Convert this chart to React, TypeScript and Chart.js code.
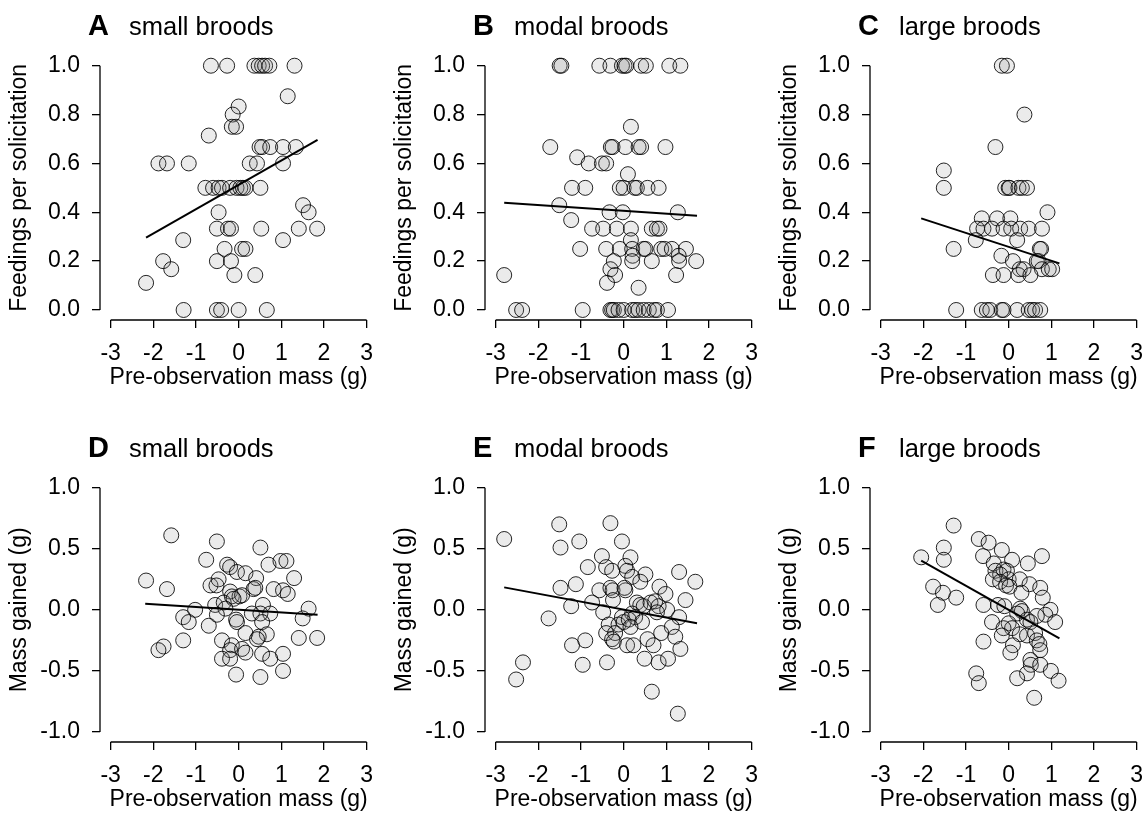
import React, { useEffect, useRef } from "react";
import { Chart, registerables } from "chart.js";
Chart.register(...registerables);

const FONT = '"Liberation Sans", Arial, Helvetica, sans-serif';

// ---------- tick labels ----------
const massTicks = [-3, -2, -1, 0, 1, 2, 3];
const feedTicks = [0, 0.2, 0.4, 0.6, 0.8, 1.0];
const gainTicks = [-1, -0.5, 0, 0.5, 1];

const massTitle = "Pre-observation mass (g)";
const feedTitle = "Feedings per solicitation";
const gainTitle = "Mass gained (g)";

// ---------- A: small broods, feedings ----------
const smallFeedMass = [-0.65, -0.27, 0.37, 0.47, 0.55, 0.62, 0.72, 1.31, 1.15, 0.0, -0.14, -0.16, -0.06, -0.7, 0.49, 0.55, 0.74, 1.04, 1.34, -1.88, -1.68, -1.17, 0.26, 0.43, 1.04, -0.78, -0.6, -0.47, -0.39, -0.2, -0.05, 0.04, 0.1, 0.16, 0.51, 1.51, -0.47, 1.64, -0.51, -0.25, -0.18, 0.53, 1.41, 1.84, -1.3, 1.04, -0.33, 0.08, 0.16, -1.77, -0.51, -0.18, -1.58, -0.1, 0.39, -2.17, -1.29, -0.51, -0.41, 0.0, 0.66];
const smallFeedRate = [1, 1, 1, 1, 1, 1, 1, 1, 0.875, 0.833, 0.8, 0.75, 0.75, 0.714, 0.667, 0.667, 0.667, 0.667, 0.667, 0.6, 0.6, 0.6, 0.6, 0.6, 0.6, 0.5, 0.5, 0.5, 0.5, 0.5, 0.5, 0.5, 0.5, 0.5, 0.5, 0.429, 0.4, 0.4, 0.333, 0.333, 0.333, 0.333, 0.333, 0.333, 0.286, 0.286, 0.25, 0.25, 0.25, 0.2, 0.2, 0.2, 0.167, 0.143, 0.143, 0.111, 0, 0, 0, 0, 0];
const smallFeedFitX = [-2.17, 1.85];
const smallFeedFitY = [0.296, 0.696];

// ---------- B: modal broods, feedings ----------
const modalFeedMass = [-1.5, -1.46, -0.57, -0.31, -0.04, 0.02, 0.06, 0.41, 0.52, 1.07, 1.33, 0.17, -1.72, -0.3, -0.26, 0.04, 0.35, 0.41, 0.98, -1.09, -0.82, -0.51, -0.41, 0.1, -1.21, -0.9, -0.09, 0.0, 0.26, 0.31, 0.56, 0.82, -1.51, -0.33, -0.02, 1.27, -1.23, -0.74, -0.48, -0.16, 0.17, 0.66, 0.78, 0.84, 0.17, -1.02, -0.41, -0.09, 0.2, 0.47, 0.51, 0.88, 0.96, 1.13, 1.46, 0.21, 1.29, -0.23, 0.2, 0.66, 1.3, 1.7, -0.31, -2.8, -0.2, 1.23, -0.39, 0.35, -2.52, -2.38, -0.96, -0.31, -0.27, -0.23, -0.12, 0.0, 0.2, 0.27, 0.35, 0.47, 0.59, 0.72, 0.78, 1.04];
const modalFeedRate = [1, 1, 1, 1, 1, 1, 1, 1, 1, 1, 1, 0.75, 0.667, 0.667, 0.667, 0.667, 0.667, 0.667, 0.667, 0.625, 0.6, 0.6, 0.6, 0.556, 0.5, 0.5, 0.5, 0.5, 0.5, 0.5, 0.5, 0.5, 0.429, 0.4, 0.4, 0.4, 0.368, 0.333, 0.333, 0.333, 0.333, 0.333, 0.333, 0.333, 0.286, 0.25, 0.25, 0.25, 0.25, 0.25, 0.25, 0.25, 0.25, 0.25, 0.25, 0.222, 0.222, 0.2, 0.2, 0.2, 0.2, 0.2, 0.167, 0.143, 0.143, 0.143, 0.111, 0.091, 0, 0, 0, 0, 0, 0, 0, 0, 0, 0, 0, 0, 0, 0, 0, 0];
const modalFeedFitX = [-2.8, 1.72];
const modalFeedFitY = [0.439, 0.386];

// ---------- C: large broods, feedings ----------
const largeFeedMass = [-0.16, -0.04, 0.37, -0.31, -1.52, -1.52, -0.08, 0.0, 0.02, 0.23, 0.31, 0.43, 0.91, -0.63, -0.27, 0.04, -0.74, -0.59, -0.39, -0.12, 0.06, 0.27, 0.47, 0.78, -0.77, 0.2, -1.29, 0.73, 0.76, -0.17, 0.1, 0.66, 0.7, 0.26, 0.35, 0.78, 0.94, 1.02, -0.37, -0.12, 0.23, 0.51, -1.23, -0.63, -0.51, -0.43, -0.16, -0.12, 0.2, 0.47, 0.55, 0.62, 0.74];
const largeFeedRate = [1, 1, 0.8, 0.667, 0.571, 0.5, 0.5, 0.5, 0.5, 0.5, 0.5, 0.5, 0.4, 0.375, 0.375, 0.375, 0.333, 0.333, 0.333, 0.333, 0.333, 0.333, 0.333, 0.333, 0.286, 0.286, 0.25, 0.25, 0.25, 0.222, 0.2, 0.2, 0.2, 0.167, 0.167, 0.167, 0.167, 0.167, 0.143, 0.143, 0.143, 0.143, 0, 0, 0, 0, 0, 0, 0, 0, 0, 0, 0];
const largeFeedFitX = [-2.05, 1.19];
const largeFeedFitY = [0.375, 0.191];

// ---------- D: small broods, mass gained ----------
const smallGainMass = [-1.58, -0.51, 0.51, -0.76, -0.27, -0.2, 0.7, 0.98, 1.12, -0.04, 0.16, -2.17, 0.41, 1.3, -1.68, -0.66, -0.47, -0.52, 0.35, 0.39, 0.82, 1.04, 1.15, -0.2, -0.16, 0.02, 0.08, -0.55, -0.35, -0.12, -0.31, -1.02, 1.64, 0.57, -0.51, 0.31, 0.51, 0.74, -1.3, -1.17, -0.06, -0.04, 0.55, 1.5, -0.7, 0.16, 0.66, 0.47, 0.43, -1.3, 1.41, 1.84, -0.39, -1.76, -1.88, -0.16, -0.2, 0.08, 0.16, 0.55, 1.04, -0.39, -0.2, 0.74, 1.04, -0.06, 0.51];
const smallGain = [0.61, 0.56, 0.51, 0.41, 0.37, 0.35, 0.37, 0.4, 0.4, 0.31, 0.3, 0.24, 0.26, 0.26, 0.17, 0.2, 0.25, 0.2, 0.17, 0.18, 0.17, 0.16, 0.13, 0.15, 0.11, 0.11, 0.12, 0.04, 0.06, 0.09, 0.01, 0.0, 0.01, 0.04, -0.04, -0.03, -0.03, -0.03, -0.06, -0.1, -0.08, -0.1, -0.1, -0.07, -0.13, -0.19, -0.2, -0.22, -0.24, -0.25, -0.23, -0.23, -0.25, -0.3, -0.33, -0.29, -0.33, -0.32, -0.35, -0.36, -0.36, -0.4, -0.4, -0.4, -0.5, -0.53, -0.55];
const smallGainFitX = [-2.19, 1.85];
const smallGainFitY = [0.049, -0.041];

// ---------- E: modal broods, mass gained ----------
const modalGainMass = [-2.8, -1.51, -0.31, -1.48, -1.04, -0.04, -0.51, 0.16, -0.84, -0.41, -0.27, 0.04, 0.08, 0.2, 0.51, 0.39, 1.3, 1.68, -1.48, -1.12, -0.57, -0.31, -0.26, 0.04, 0.02, 0.84, 0.98, 1.45, -1.23, -0.74, -0.25, -0.48, 0.31, 0.39, 0.47, 0.63, 0.74, 0.82, 1.02, 0.78, -1.76, -0.04, 0.2, 0.27, 0.43, -0.35, -0.12, 0.0, 0.12, 0.16, 1.3, 1.13, -0.41, -0.2, -0.27, -0.23, 0.88, 1.21, 0.08, 0.23, 0.56, 0.7, -1.21, -0.9, 1.33, 0.49, 0.82, 1.04, -0.39, -0.96, -2.36, -2.52, 0.66, 1.27];
const modalGain = [0.58, 0.7, 0.71, 0.51, 0.56, 0.56, 0.44, 0.43, 0.35, 0.35, 0.32, 0.36, 0.32, 0.27, 0.29, 0.23, 0.31, 0.23, 0.18, 0.21, 0.16, 0.18, 0.16, 0.16, 0.18, 0.19, 0.13, 0.08, 0.03, 0.06, 0.08, -0.02, 0.06, 0.04, 0.03, 0.06, 0.07, 0.03, 0.0, -0.02, -0.07, -0.06, -0.03, -0.06, -0.1, -0.12, -0.12, -0.1, -0.08, -0.14, -0.06, -0.14, -0.19, -0.19, -0.24, -0.26, -0.19, -0.22, -0.29, -0.29, -0.24, -0.29, -0.29, -0.25, -0.32, -0.4, -0.43, -0.4, -0.43, -0.45, -0.43, -0.57, -0.67, -0.85];
const modalGainFitX = [-2.8, 1.72];
const modalGainFitY = [0.184, -0.11];

// ---------- F: large broods, mass gained ----------
const largeGainMass = [-1.29, -0.7, -0.47, -1.52, -0.6, -0.16, 0.78, -2.05, -1.52, -0.35, 0.08, 0.45, -0.31, -0.12, -0.04, -0.2, -0.37, 0.0, 0.26, -0.2, -0.06, 0.02, 0.49, 0.74, 0.3, -1.77, -1.54, -1.23, -1.66, 0.8, -0.59, -0.25, -0.1, 0.27, 0.31, 0.2, 0.98, 0.86, 0.66, 1.09, 0.43, 0.51, 0.0, -0.39, 0.08, -0.12, -0.16, 0.26, 0.43, 0.62, 0.66, 0.72, 0.74, 0.1, 0.04, -0.59, 0.51, 0.52, 0.74, 0.43, 0.99, 1.17, 0.2, -0.76, -0.7, 0.6];
const largeGain = [0.69, 0.58, 0.55, 0.51, 0.44, 0.49, 0.44, 0.43, 0.41, 0.38, 0.41, 0.38, 0.32, 0.33, 0.32, 0.29, 0.25, 0.25, 0.25, 0.23, 0.2, 0.19, 0.21, 0.18, 0.14, 0.19, 0.14, 0.1, 0.04, 0.1, 0.04, 0.04, 0.03, 0.01, -0.01, -0.03, 0.0, -0.04, -0.05, -0.1, -0.08, -0.1, -0.11, -0.1, -0.15, -0.15, -0.21, -0.2, -0.21, -0.19, -0.25, -0.28, -0.33, -0.29, -0.35, -0.26, -0.41, -0.45, -0.45, -0.52, -0.5, -0.58, -0.56, -0.52, -0.6, -0.72];
const largeGainFitX = [-2.05, 1.19];
const largeGainFitY = [0.403, -0.233];

type Panel = {
  letter: string;
  label: string;
  kind: "feed" | "gain";
  xs: number[];
  ys: number[];
  fitX: number[];
  fitY: number[];
  col: number;
  row: number;
};

const panels: Panel[] = [
  { letter: "A", label: "small broods", kind: "feed", xs: smallFeedMass, ys: smallFeedRate, fitX: smallFeedFitX, fitY: smallFeedFitY, col: 0, row: 0 },
  { letter: "B", label: "modal broods", kind: "feed", xs: modalFeedMass, ys: modalFeedRate, fitX: modalFeedFitX, fitY: modalFeedFitY, col: 1, row: 0 },
  { letter: "C", label: "large broods", kind: "feed", xs: largeFeedMass, ys: largeFeedRate, fitX: largeFeedFitX, fitY: largeFeedFitY, col: 2, row: 0 },
  { letter: "D", label: "small broods", kind: "gain", xs: smallGainMass, ys: smallGain, fitX: smallGainFitX, fitY: smallGainFitY, col: 0, row: 1 },
  { letter: "E", label: "modal broods", kind: "gain", xs: modalGainMass, ys: modalGain, fitX: modalGainFitX, fitY: modalGainFitY, col: 1, row: 1 },
  { letter: "F", label: "large broods", kind: "gain", xs: largeGainMass, ys: largeGain, fitX: largeGainFitX, fitY: largeGainFitY, col: 2, row: 1 },
];

const CANVAS_W = 388;
const CANVAS_H = 391;
const COL_STEP = 385;
const ROW_STEP = 422;

function PanelChart({ panel }: { panel: Panel }) {
  const ref = useRef<HTMLCanvasElement>(null);

  useEffect(() => {
    const canvas = ref.current;
    if (!canvas) return;
    const isFeed = panel.kind === "feed";
    const yTicks = isFeed ? feedTicks : gainTicks;
    const yMin = isFeed ? -0.041 : -1.082;
    const yMax = isFeed ? 1.041 : 1.082;
    const points = panel.xs.map((x, i) => ({ x, y: panel.ys[i] }));
    const fit = panel.fitX.map((x, i) => ({ x, y: panel.fitY[i] }));

    const decor = {
      id: "decor",
      afterDraw(chart: any) {
        const { ctx, chartArea } = chart;
        const sx = chart.scales.x;
        const sy = chart.scales.y;
        ctx.save();
        ctx.strokeStyle = "#000";
        ctx.lineWidth = 1.3;
        ctx.beginPath();
        const xa = sx.getPixelForValue(massTicks[0]);
        const xb = sx.getPixelForValue(massTicks[massTicks.length - 1]);
        ctx.moveTo(xa, chartArea.bottom);
        ctx.lineTo(xb, chartArea.bottom);
        const ya = sy.getPixelForValue(yTicks[0]);
        const yb = sy.getPixelForValue(yTicks[yTicks.length - 1]);
        ctx.moveTo(chartArea.left, ya);
        ctx.lineTo(chartArea.left, yb);
        ctx.stroke();
        ctx.fillStyle = "#000";
        ctx.textAlign = "left";
        ctx.textBaseline = "alphabetic";
        ctx.font = `bold 29px ${FONT}`;
        ctx.fillText(panel.letter, 88, 35);
        ctx.font = `25.5px ${FONT}`;
        ctx.fillText(panel.label, 129, 35);
        ctx.restore();
      },
    };

    const axisFont = { family: FONT, size: 23 };
    const gridCfg = {
      display: true,
      drawOnChartArea: false,
      drawTicks: true,
      tickLength: 8,
      color: "#000",
      lineWidth: 1.3,
    };

    const chart = new Chart(canvas, {
      type: "scatter",
      data: {
        datasets: [
          {
            data: fit,
            showLine: true,
            borderColor: "#000",
            borderWidth: 2,
            pointRadius: 0,
            fill: false,
            order: 0,
            clip: false,
          } as any,
          {
            data: points,
            pointRadius: 7.5,
            pointBackgroundColor: "rgba(128,128,128,0.16)",
            backgroundColor: "rgba(128,128,128,0.16)",
            pointBorderColor: "rgba(0,0,0,0.85)",
            borderColor: "rgba(0,0,0,0.85)",
            pointBorderWidth: 1,
            borderWidth: 1,
            order: 1,
            clip: false,
          } as any,
        ],
      },
      options: {
        animation: false,
        responsive: false,
        maintainAspectRatio: false,
        events: [],
        layout: { padding: { top: 55.7, right: 10.7, bottom: 0, left: 0 } },
        plugins: {
          legend: { display: false },
          tooltip: { enabled: false },
        },
        scales: {
          x: {
            type: "linear",
            min: -3.25,
            max: 3.25,
            afterBuildTicks: (s: any) => {
              s.ticks = massTicks.map((v) => ({ value: v }));
            },
            afterFit: (s: any) => {
              s.height = 71;
            },
            grid: gridCfg,
            border: { display: false },
            ticks: {
              padding: 12,
              color: "#000",
              font: axisFont,
              autoSkip: false,
              maxRotation: 0,
              callback: (v: any) => String(v),
            },
            title: {
              display: true,
              text: massTitle,
              color: "#000",
              font: axisFont,
              padding: { top: 0, bottom: 0 },
            },
          },
          y: {
            type: "linear",
            min: yMin,
            max: yMax,
            afterBuildTicks: (s: any) => {
              s.ticks = yTicks.map((v) => ({ value: v }));
            },
            afterFit: (s: any) => {
              s.width = 100;
            },
            grid: gridCfg,
            border: { display: false },
            ticks: {
              padding: 12,
              color: "#000",
              font: axisFont,
              autoSkip: false,
              callback: (v: any) => Number(v).toFixed(1),
            },
            title: {
              display: true,
              text: isFeed ? feedTitle : gainTitle,
              color: "#000",
              font: axisFont,
              padding: { top: 6, bottom: 0 },
            },
          },
        },
      } as any,
      plugins: [decor],
    });
    return () => chart.destroy();
  }, [panel]);

  return (
    <canvas
      ref={ref}
      width={CANVAS_W}
      height={CANVAS_H}
      style={{
        position: "absolute",
        left: panel.col * COL_STEP,
        top: panel.row * ROW_STEP,
        width: CANVAS_W,
        height: CANVAS_H,
      }}
    />
  );
}

export default function App() {
  return (
    <div
      style={{
        position: "absolute",
        left: 0,
        top: 0,
        width: 1146,
        height: 813,
        overflow: "hidden",
        background: "#fff",
      }}
    >
      {panels.map((p) => (
        <PanelChart key={p.letter} panel={p} />
      ))}
    </div>
  );
}
